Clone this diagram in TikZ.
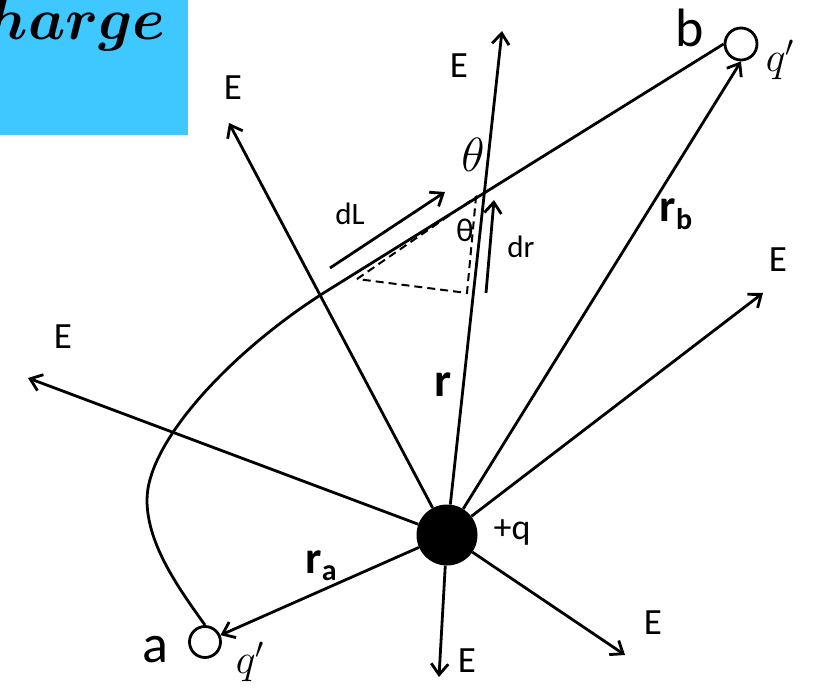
\documentclass[tikz,border=0pt]{standalone}
\usepackage{fix-cm}
\usepackage{bm}
\usepackage{fontspec}
\setmainfont{Carlito}
\usetikzlibrary{arrows.meta}
\definecolor{FldBlue}{RGB}{62,200,255}
\tikzset{
  fld/arrow/.style={-{Straight Barb[length=11pt,width=17pt,line width=2.8pt]}, line width=2.8pt},
  fld/plain/.style={line width=2.8pt},
  fld/dashline/.style={dashed, dash pattern=on 8pt off 5pt, line width=2pt},
  fld/E/.style={font=\fontsize{37}{44}\selectfont, inner sep=0pt},
  fld/pt/.style={circle, draw, line width=2.8pt, minimum size=31pt, inner sep=0pt},
  fld/lbl/.style={font=\fontsize{54}{62}\selectfont, inner sep=0pt},
  fld/vec/.style={font=\fontsize{46}{54}\bfseries\selectfont, inner sep=0pt},
  fld/prime/.style={font=\fontsize{42}{50}\selectfont, inner sep=0pt},
  fld/mid/.style={font=\fontsize{31}{37}\selectfont, inner sep=0pt}
}

\begin{document}
\begin{tikzpicture}[x=1pt,y=-1pt]
  \useasboundingbox (0,0) rectangle (815,690);
  % title box, cut at the page edge
  \begin{scope}
    \clip (0,0) rectangle (188,135);
    \fill[FldBlue] (0,0) rectangle (188,135);
    \node[anchor=base east, inner sep=0pt, font=\fontsize{59}{70}\selectfont] (title) at (166,40) {$\bm{charge}$};
  \end{scope}

  % charge and test points
  \node[circle, fill=black, minimum size=61pt, inner sep=0pt] (q) at (447,535) {};
  \node[fld/pt] (qa) at (205,642) {};
  \node[fld/pt, minimum size=32pt] (qb) at (741,44) {};

  % ends of the field lines
  \coordinate (e1) at (229,123);
  \coordinate (e2) at (502,31);
  \coordinate (e3) at (763,293);
  \coordinate (e4) at (625,655);
  \coordinate (e5) at (439,677);
  \coordinate (e6) at (28,378);
  \coordinate (bend) at (330,289);

  \foreach \e in {e1,e2,e3,e4,e5,e6}
    \draw[fld/arrow] (q) -- (\e);
  \draw[fld/arrow] (q) -- (qa);
  \draw[fld/arrow] (q) -- (qb.south);

  % path from a to b
  \draw[fld/plain] (qa.north) .. controls (180,590) and (147,545) .. (147,500)
    .. controls (147,440) and (236,347) .. (bend) -- (qb.west);

  % small triangle
  \coordinate (t1) at (357,279);
  \coordinate (t2) at (476,197);
  \coordinate (t3) at (467,293);
  \draw[fld/dashline] (t1) -- (t2) -- (t3) -- cycle;
  \coordinate (dl0) at (330,268);
  \coordinate (dl1) at (445,192);
  \coordinate (dr0) at (486,293);
  \coordinate (dr1) at (494,200);
  \draw[fld/arrow] (dl0) -- (dl1);
  \draw[fld/arrow] (dr0) -- (dr1);

  % labels
  \node[fld/E] (lE1) at (233,88) {E};
  \node[fld/E] (lE2) at (459,66) {E};
  \node[fld/E] (lE3) at (778,260) {E};
  \node[fld/E] (lE4) at (653,623) {E};
  \node[fld/E] (lE5) at (467,661) {E};
  \node[fld/E] (lE6) at (63,337) {E};
  \node[fld/lbl] (la) at (155,650) {a};
  \node[fld/lbl] (lb) at (690,28) {b};
  \node[fld/prime] (lqa) at (250,662) {$q'$};
  \node[fld/prime] (lqb) at (780,60) {$q'$};
  \node[fld/mid, font=\fontsize{36}{42}\selectfont] (lq) at (512,533) {+q};
  \node[fld/vec, font=\fontsize{48}{56}\bfseries\selectfont] (lr) at (443,385) {r};
  \node[fld/vec, anchor=base] (lra) at (321,573) {r\raisebox{-7pt}{\fontsize{30}{36}\selectfont a}};
  \node[fld/vec, anchor=base] (lrb) at (676,222) {r\raisebox{-8pt}{\fontsize{30}{36}\selectfont b}};
  \node[fld/mid] (ldl) at (350,214) {dL};
  \node[fld/mid] (ldr) at (521,247) {dr};
  \node[fld/mid, font=\fontsize{33}{39}\selectfont] (lth) at (465,230) {θ};
  \node[fld/mid, font=\fontsize{48}{56}\selectfont] (lTh) at (473,155) {$\theta$};
\end{tikzpicture}
\end{document}
